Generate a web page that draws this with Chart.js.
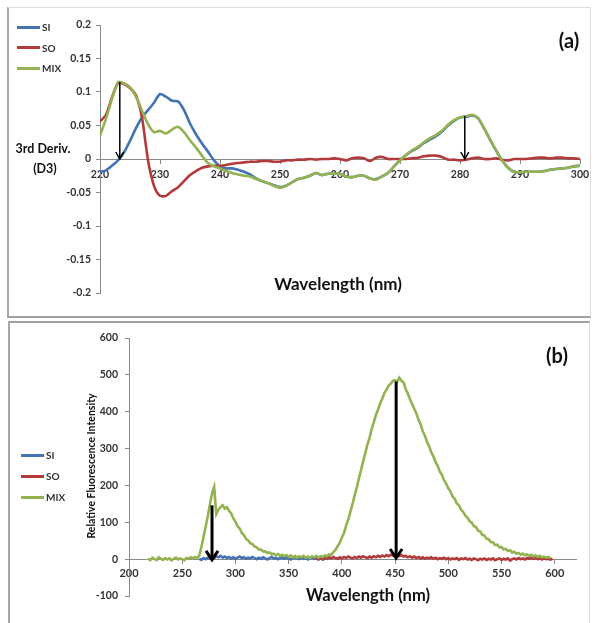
<!DOCTYPE html>
<html>
<head>
<meta charset="utf-8">
<script src="https://cdn.jsdelivr.net/npm/chart.js@4.4.1/dist/chart.umd.min.js"></script>
<style>
html,body{margin:0;padding:0;background:#fff;}
body{position:relative;width:595px;height:623px;overflow:hidden;font-family:Lato,'Open Sans',sans-serif;}
.box{position:absolute;box-sizing:border-box;}
#boxA{left:7px;top:7px;width:584px;height:311px;border:1px solid #dedede;border-left:2px solid #a6a6a6;border-bottom:2px solid #a0a0a0;}
#boxB{left:8px;top:321px;width:582px;height:310px;border:1px solid #dedede;border-left:2px solid #a6a6a6;border-top:2px solid #a0a0a0;}
canvas{position:absolute;left:0;}
#cA{top:0;}
#cB{top:320px;}
.txt{position:absolute;font-weight:700;color:#111;white-space:nowrap;transform:translate(-50%,-50%);line-height:1;}
.rot{transform:translate(-50%,-50%) rotate(-90deg);}
.leg{position:absolute;font-size:10px;font-weight:700;color:#333;white-space:nowrap;line-height:1;transform:translateY(-50%);display:flex;align-items:center;}
.leg i{display:inline-block;width:23px;height:3px;margin-right:2px;}
</style>
</head>
<body>
<div class="box" id="boxA"></div>
<div class="box" id="boxB"></div>
<canvas id="cA" width="595" height="318"></canvas>
<canvas id="cB" width="595" height="303"></canvas>
<div id="overlay"></div>
<script>
// ================= DATA =================
const seriesNames = ['SI', 'SO', 'MIX'];

// ---- Panel (a): 3rd derivative spectra ----
const wlA = [220,221,222,223,224,225,226,227,228,229,230,231,232,233,234,235,236,237,238,239,240,241,242,243,244,245,246,247,248,249,250,251,252,253,254,255,256,257,258,259,260,261,262,263,264,265,266,267,268,269,270,271,272,273,274,275,276,277,278,279,280,281,282,283,284,285,286,287,288,289,290,291,292,293,294,295,296,297,298,299,300];
const siA = [-0.019,-0.017,-0.010,-0.002,0.010,0.027,0.046,0.062,0.073,0.084,0.097,0.093,0.087,0.086,0.073,0.053,0.037,0.023,0.011,-0.002,-0.011,-0.014,-0.014,-0.016,-0.019,-0.023,-0.029,-0.033,-0.036,-0.039,-0.042,-0.040,-0.035,-0.030,-0.028,-0.025,-0.021,-0.024,-0.022,-0.022,-0.022,-0.026,-0.027,-0.025,-0.025,-0.029,-0.030,-0.026,-0.021,-0.011,-0.002,0.006,0.012,0.017,0.024,0.029,0.034,0.041,0.050,0.057,0.062,0.063,0.065,0.061,0.046,0.029,0.013,-0.002,-0.013,-0.019,-0.020,-0.019,-0.019,-0.019,-0.018,-0.016,-0.015,-0.014,-0.013,-0.011,-0.010];
const soA = [0.056,0.066,0.092,0.113,0.112,0.106,0.095,0.062,-0.002,-0.040,-0.055,-0.055,-0.048,-0.042,-0.033,-0.024,-0.018,-0.013,-0.011,-0.010,-0.010,-0.009,-0.007,-0.006,-0.005,-0.004,-0.004,-0.003,-0.003,-0.004,-0.004,-0.002,-0.002,-0.001,-0.001,0.000,-0.001,0.000,0.000,0.001,0.000,-0.002,0.001,0.002,0.001,-0.003,0.002,0.003,0.000,0.000,0.000,0.000,0.001,0.002,0.004,0.005,0.005,0.003,-0.001,-0.001,-0.002,-0.001,0.001,0.002,0.000,0.000,0.001,-0.001,-0.002,0.000,0.000,0.000,0.001,0.002,0.002,0.001,0.002,0.002,0.001,0.001,0.000];
const mixA = [0.035,0.060,0.090,0.115,0.113,0.107,0.093,0.072,0.052,0.040,0.042,0.038,0.044,0.048,0.040,0.028,0.017,0.005,-0.006,-0.011,-0.014,-0.018,-0.021,-0.023,-0.025,-0.026,-0.030,-0.033,-0.036,-0.040,-0.043,-0.040,-0.035,-0.030,-0.028,-0.025,-0.021,-0.024,-0.022,-0.022,-0.022,-0.026,-0.027,-0.025,-0.025,-0.029,-0.031,-0.026,-0.021,-0.011,-0.002,0.006,0.013,0.018,0.025,0.031,0.036,0.042,0.051,0.058,0.062,0.064,0.066,0.061,0.046,0.029,0.013,-0.002,-0.013,-0.019,-0.020,-0.019,-0.019,-0.019,-0.018,-0.016,-0.015,-0.014,-0.013,-0.011,-0.010];
const xTicksA = [220,230,240,250,260,270,280,290,300];
const yTicksA = [-0.2,-0.15,-0.1,-0.05,0,0.05,0.1,0.15,0.2];
const yTickLabelsA = ['-0.2','-0.15','-0.1','-0.05','0','0.05','0.1','0.15','0.2'];
const arrowWlA = [223.3, 280.8];
const arrowTopA = [0.115, 0.064];
const arrowTipA = [0, 0];

// ---- Panel (b): fluorescence spectra ----
const wlB_MIX = [218,220,222,224,226,228,230,232,234,236,238,240,242,244,246,248,250,252,254,256,258,260,262,264,266,268,270,272,274,276,278,280,282,284,286,288,290,292,294,296,298,300,302,304,306,308,310,312,314,316,318,320,322,324,326,328,330,332,334,336,338,340,342,344,346,348,350,352,354,356,358,360,362,364,366,368,370,372,374,376,378,380,382,384,386,388,390,392,394,396,398,400,402,404,406,408,410,412,414,416,418,420,422,424,426,428,430,432,434,436,438,440,442,444,446,448,450,452,454,456,458,460,462,464,466,468,470,472,474,476,478,480,482,484,486,488,490,492,494,496,498,500,502,504,506,508,510,512,514,516,518,520,522,524,526,528,530,532,534,536,538,540,542,544,546,548,550,552,554,556,558,560,562,564,566,568,570,572,574,576,578,580,582,584,586,588,590,592,594,596];
const mixB = [2,-3,4,0,-2,5,1,-2,3,-1, 2,-3,1,4,-1,2,0,-3,3,1, 5,2,6,3,9,33,60,88,116,148, 178,196,122,134,141,146,137,141,131,124, 111,102,89,83,71,65,55,51,43,41, 34,32,26,26,21,21,17,18,13,15, 11,14,9,12,8,11,6,10,5,9, 4,8,5,9,4,7,3,8,5,9, 4,8,6,10,8,13,12,19,25,35, 44,59,71,91,107,129,149,173,194,219, 241,266,287,311,329,353,371,391,406,423, 435,451,460,471,476,484,485,481,492,484, 479,461,450,434,421,408,396,378,366,347, 335,318,306,290,279,263,253,238,229,214, 205,192,184,170,164,151,146,134,128,118, 113,103,99,90,87,77,75,66,64,55, 54,46,46,38,39,32,33,26,28,22, 24,18,20,15,17,12,15,10,13,9, 12,7,10,6,9,5,7,4,6,3];
const wlB_SI = [266,268,270,272,274,276,278,280,282,284,286,288,290,292,294,296,298,300,302,304,306,308,310,312,314,316,318,320,322,324,326,328,330,332,334,336,338,340,342,344,346,348,350,352,354,356,358,360,362,364,366,368,370,372,374,376,378,380,382,384];
const siB = [1,-2,3,0,4,2,5,3,8,5, 9,4,7,3,6,2,5,1,4,7, 3,5,1,4,2,6,3,0,4,1, 5,2,-1,3,6,2,4,0,3,5, 1,4,2,-1,3,5,2,0,4,1, 3,-1,2,4,1,3,0,2,-1,1];
const wlB_SO = [376,378,380,382,384,386,388,390,392,394,396,398,400,402,404,406,408,410,412,414,416,418,420,422,424,426,428,430,432,434,436,438,440,442,444,446,448,450,452,454,456,458,460,462,464,466,468,470,472,474,476,478,480,482,484,486,488,490,492,494,496,498,500,502,504,506,508,510,512,514,516,518,520,522,524,526,528,530,532,534,536,538,540,542,544,546,548,550,552,554,556,558,560,562,564,566,568,570,572,574,576,578,580,582,584,586,588,590,592,594,596,598];
const soB = [2,-1,3,0,4,1,5,2,6,3, 1,5,2,6,3,7,4,2,6,3, 7,4,8,5,3,7,4,8,5,9, 6,10,7,11,8,12,9,13,10,8, 11,7,9,5,8,4,7,3,6,2, 5,1,4,2,5,1,4,0,3,1, 4,0,3,-1,2,0,3,-2,2,0, 3,-1,1,-2,2,0,-3,1,-1,2, -2,1,-1,2,-3,0,2,-2,1,-1, 2,-4,0,2,-1,3,0,2,-1,3, 1,4,1,3,0,2,-1,2,0,1, -1,1];
const xTicksB = [200,250,300,350,400,450,500,550,600];
const yTicksB = [-100,0,100,200,300,400,500,600];
const yTickLabelsB = ['-100','0','100','200','300','400','500','600'];
const arrowWlB = [278, 451];
const arrowTopB = [146, 482];
const arrowTipB = [-2, 3];

// ================= STYLE =================
const COLORS = { SI: '#4472b4', SO: '#b33a3b', MIX: '#93b250' };
const AXIS = '#8a8a8a';
const TICKC = '#333';

const pts = (xs, ys) => xs.map((x, i) => ({ x: x, y: ys[i] }));

const arrowPlugin = {
  id: 'arrows',
  afterDatasetsDraw(chart, args, o) {
    const ctx = chart.ctx, sx = chart.scales.x, sy = chart.scales.y;
    o.xs.forEach((xv, i) => {
      const px = sx.getPixelForValue(xv);
      const p1 = sy.getPixelForValue(o.tops[i]);
      const p2 = sy.getPixelForValue(o.tips[i]);
      ctx.save();
      ctx.strokeStyle = '#000';
      ctx.lineWidth = o.width;
      ctx.lineCap = 'butt';
      ctx.beginPath(); ctx.moveTo(px, p1); ctx.lineTo(px, p2 - 1); ctx.stroke();
      ctx.lineJoin = 'miter';
      ctx.beginPath();
      ctx.moveTo(px - o.hw, p2 - o.hh); ctx.lineTo(px, p2); ctx.lineTo(px + o.hw, p2 - o.hh);
      ctx.stroke();
      ctx.restore();
    });
  }
};

function makeChart(canvas, cfg) {
  const ds = [
    { label: seriesNames[0], data: pts(cfg.si[0], cfg.si[1]), borderColor: COLORS.SI, order: 2 },
    { label: seriesNames[1], data: pts(cfg.so[0], cfg.so[1]), borderColor: COLORS.SO, order: 1 },
    { label: seriesNames[2], data: pts(cfg.mix[0], cfg.mix[1]), borderColor: COLORS.MIX, order: 0 }
  ];
  ds.forEach(d => { d.borderWidth = 2.6; d.pointRadius = 0; d.tension = cfg.tension; d.fill = false; });
  return new Chart(canvas, {
    type: 'line',
    data: { datasets: ds },
    options: {
      responsive: false, animation: false, events: [],
      layout: { padding: { left: cfg.areaLeft - cfg.yw, right: cfg.pad.right, top: cfg.pad.top, bottom: cfg.pad.bottom } },
      plugins: { legend: { display: false }, tooltip: { enabled: false }, arrows: cfg.arrows },
      scales: {
        x: {
          type: 'linear', min: cfg.xmin, max: cfg.xmax, position: { y: 0 },
          afterBuildTicks: s => { s.ticks = cfg.xt.map(v => ({ value: v })); },
          ticks: { autoSkip: false, maxRotation: 0, padding: cfg.xpadT, color: TICKC,
                   font: { family: 'Lato', size: cfg.fx, weight: 'bold' },
                   callback: v => String(v) },
          grid: { drawOnChartArea: false, drawTicks: true, tickLength: 4, color: AXIS, lineWidth: 1 },
          border: { display: true, color: AXIS, width: 1 }
        },
        y: {
          type: 'linear', min: cfg.ymin, max: cfg.ymax, position: 'left',
          afterBuildTicks: s => { s.ticks = cfg.yt.map(v => ({ value: v })); },
          afterFit: s => { s.width = cfg.yw; },
          ticks: { autoSkip: false, padding: cfg.ypadT, color: TICKC,
                   font: { family: 'Lato', size: cfg.fy, weight: 'bold' },
                   callback: (v, i) => cfg.yl[i] },
          grid: { drawOnChartArea: false, drawTicks: true, tickLength: 4, color: AXIS, lineWidth: 1 },
          border: { display: true, color: AXIS, width: 1 }
        }
      }
    },
    plugins: [arrowPlugin]
  });
}

makeChart(document.getElementById('cA'), {
  si: [wlA, siA], so: [wlA, soA], mix: [wlA, mixA], tension: 0.25,
  areaLeft: 100, yw: 45, pad: { right: 15, top: 25, bottom: 25 },
  xmin: 220, xmax: 300, ymin: -0.2, ymax: 0.2,
  xt: xTicksA, yt: yTicksA, yl: yTickLabelsA,
  xpadT: 5, ypadT: 5, fx: 10.5, fy: 10.5,
  arrows: { xs: arrowWlA, tops: arrowTopA, tips: arrowTipA, width: 1.5, hw: 4, hh: 7 }
});

makeChart(document.getElementById('cB'), {
  si: [wlB_SI, siB], so: [wlB_SO, soB], mix: [wlB_MIX, mixB], tension: 0,
  areaLeft: 129, yw: 45, pad: { right: 19, top: 18, bottom: 27 },
  xmin: 200, xmax: 620, ymin: -100, ymax: 600,
  xt: xTicksB, yt: yTicksB, yl: yTickLabelsB,
  xpadT: 4, ypadT: 7, fx: 11, fy: 10.5,
  arrows: { xs: arrowWlB, tops: arrowTopB, tips: arrowTipB, width: 3, hw: 6, hh: 9 }
});

// ================= TEXT / LEGENDS =================
const ov = document.getElementById('overlay');
function txt(s, x, y, size, cls) {
  const d = document.createElement('div');
  d.className = 'txt' + (cls ? ' ' + cls : '');
  d.textContent = s;
  d.style.left = x + 'px'; d.style.top = y + 'px'; d.style.fontSize = size + 'px';
  ov.appendChild(d);
}
function legend(x, ys) {
  seriesNames.forEach((n, i) => {
    const d = document.createElement('div');
    d.className = 'leg';
    d.style.left = x + 'px'; d.style.top = ys[i] + 'px';
    const ln = document.createElement('i');
    ln.style.background = COLORS[n];
    d.appendChild(ln);
    d.appendChild(document.createTextNode(n));
    ov.appendChild(d);
  });
}
legend(17, [27, 47.5, 68]);
legend(21, [455, 476, 497]);
txt('3rd Deriv.', 43, 149, 12.5);
txt('(D3)', 45, 169, 12.5);
txt('Wavelength (nm)', 338, 283, 17);
txt('(a)', 569, 40, 20);
txt('Wavelength (nm)', 368, 595, 16.5);
txt('(b)', 557, 355, 20);
txt('Relative Fluorescence Intensity', 90.5, 466, 10.5, 'rot');
</script>
</body>
</html>
